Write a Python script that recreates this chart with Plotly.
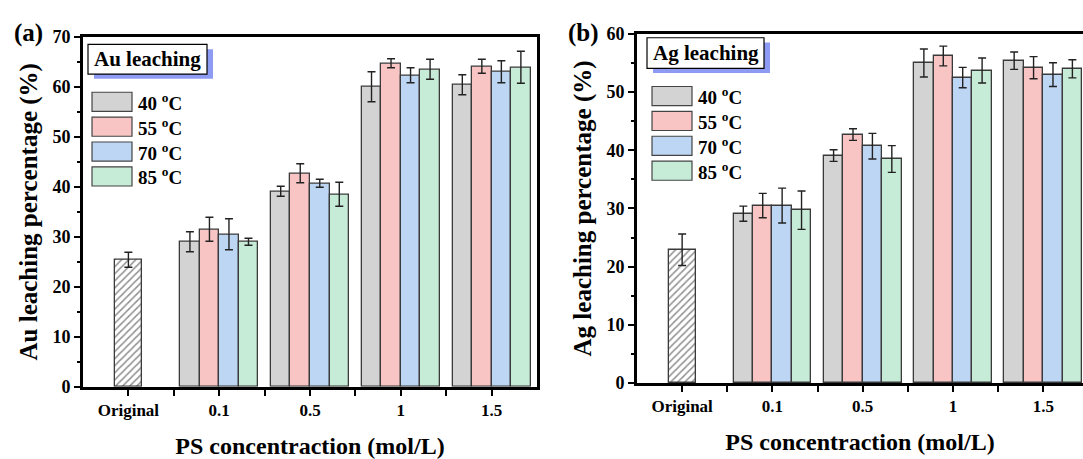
import plotly.graph_objects as go

# ---------------- data ----------------
categories = ["Original", "0.1", "0.5", "1", "1.5"]
temps = ["40 <sup>o</sup>C", "55 <sup>o</sup>C", "70 <sup>o</sup>C", "85 <sup>o</sup>C"]

au_original = 25.4
au_original_err = 1.5
au_40 = [29.0, 39.1, 60.0, 60.4]
au_55 = [31.5, 42.7, 64.7, 64.1]
au_70 = [30.5, 40.7, 62.3, 63.0]
au_85 = [29.0, 38.5, 63.5, 63.9]
au_40_err = [2.0, 1.0, 3.0, 2.0]
au_55_err = [2.4, 1.9, 0.9, 1.4]
au_70_err = [3.1, 0.8, 1.5, 2.2]
au_85_err = [0.7, 2.4, 2.0, 3.2]

ag_original = 22.9
ag_original_err = 2.7
ag_40 = [29.1, 39.1, 55.0, 55.4]
ag_55 = [30.5, 42.7, 56.2, 54.2]
ag_70 = [30.5, 40.7, 52.5, 53.0]
ag_85 = [29.7, 38.5, 53.7, 54.0]
ag_40_err = [1.3, 1.0, 2.4, 1.5]
ag_55_err = [2.1, 1.0, 1.7, 1.9]
ag_70_err = [3.0, 2.2, 1.75, 2.05]
ag_85_err = [3.3, 2.3, 2.15, 1.55]

colors = ["#d3d3d3", "#f8c4c4", "#bdd6f4", "#c6ebd7"]

W, H = 1083, 459
FONT = "Liberation Serif"

fig = go.Figure()

bar_w = 0.215
orig_w = 0.30
edge = "#3a3a3a"


def add_panel(xa, ya, orig, orig_err, series, errs):
    # original (hatched) bar
    fig.add_trace(go.Bar(
        x=[0], y=[orig], width=[orig_w], xaxis=xa, yaxis=ya,
        marker=dict(color="white", line=dict(color=edge, width=1.3),
                    pattern=dict(shape="/", fgcolor="#222222", bgcolor="white",
                                 size=5, solidity=0.3)),
        error_y=dict(type="data", array=[orig_err], color="#222222",
                     thickness=1.4, width=4),
        showlegend=False))
    n = len(series)
    for i, (vals, ev) in enumerate(zip(series, errs)):
        off = (i - (n - 1) / 2) * bar_w
        xs = [k + 1 + off for k in range(len(vals))]
        fig.add_trace(go.Bar(
            x=xs, y=vals, width=bar_w, xaxis=xa, yaxis=ya,
            marker=dict(color=colors[i], line=dict(color=edge, width=1.3)),
            error_y=dict(type="data", array=ev, color="#222222",
                         thickness=1.4, width=4),
            showlegend=False))


add_panel("x", "y", au_original, au_original_err,
          [au_40, au_55, au_70, au_85], [au_40_err, au_55_err, au_70_err, au_85_err])
add_panel("x2", "y2", ag_original, ag_original_err,
          [ag_40, ag_55, ag_70, ag_85], [ag_40_err, ag_55_err, ag_70_err, ag_85_err])

xtickfont = dict(family=FONT, size=17, color="black", weight="bold")
ytickfont = dict(family=FONT, size=18, color="black", weight="bold")
xtitlefont = dict(family=FONT, size=24, color="black", weight="bold")
ytitlefont = dict(family=FONT, size=25, color="black", weight="bold")

xcommon = dict(
    tickmode="array", tickvals=list(range(len(categories))),
    ticktext=categories,
    ticks="outside", ticklen=6, tickwidth=1.5, tickcolor="black",
    minor=dict(tickvals=[k + 0.5 for k in range(len(categories) - 1)],
               ticks="outside", ticklen=6, tickwidth=1.5, tickcolor="black"),
    showline=True, linecolor="black", linewidth=3, mirror=True,
    showgrid=False, zeroline=False, tickfont=xtickfont,
    title=dict(text="PS concentraction (mol/L)", font=xtitlefont, standoff=18),
)
ycommon = dict(
    dtick=10, ticks="outside", ticklen=6, tickwidth=1.5, tickcolor="black",
    minor=dict(dtick=5, ticks="outside", ticklen=3, tickwidth=1.5, tickcolor="black"),
    showline=True, linecolor="black", linewidth=3,
    showgrid=False, zeroline=False, tickfont=ytickfont,
)

fig.update_layout(
    width=W, height=H,
    margin=dict(l=0, r=0, t=0, b=0),
    paper_bgcolor="white", plot_bgcolor="white",
    barmode="overlay", bargap=0,
    font=dict(family=FONT, color="black"),
    xaxis=dict(xcommon, domain=[83 / W, 537 / W], range=[-0.5, 4.5], anchor="y"),
    yaxis=dict(ycommon, domain=[1 - 394 / H, 1 - 28 / H], range=[0, 70], mirror=True,
               anchor="x",
               title=dict(text="Au leaching percentage (%)", font=ytitlefont, standoff=8)),
    xaxis2=dict(xcommon, domain=[637 / W, 1.0], range=[-0.5, 4.44], anchor="y2"),
    yaxis2=dict(ycommon, domain=[1 - 390 / H, 1 - 25 / H], range=[0, 60], mirror=False,
                anchor="x2",
                title=dict(text="Ag leaching percentage (%)", font=ytitlefont, standoff=8)),
)

shapes = []
annotations = []


def px(x):
    return x / W


def py(y):
    return 1 - y / H


def add_legend(title, box, swx, sw_tops, label_x):
    x0, y0, x1, y1 = box
    # shadow
    shapes.append(dict(type="rect", xref="paper", yref="paper",
                       x0=px(x0 + 6), x1=px(x1 + 6), y0=py(y1 + 5), y1=py(y0 + 5),
                       fillcolor="#8e9bf2", line=dict(width=0), layer="above"))
    shapes.append(dict(type="rect", xref="paper", yref="paper",
                       x0=px(x0), x1=px(x1), y0=py(y1), y1=py(y0),
                       fillcolor="white", line=dict(color="black", width=1.2), layer="above"))
    annotations.append(dict(text=title, xref="paper", yref="paper",
                            x=px((x0 + x1) / 2), y=py((y0 + y1) / 2), showarrow=False,
                            xanchor="center", yanchor="middle",
                            font=dict(family=FONT, size=21, color="black", weight="bold")))
    for i, t in enumerate(sw_tops):
        shapes.append(dict(type="rect", xref="paper", yref="paper",
                           x0=px(swx), x1=px(swx + 40), y0=py(t + 20), y1=py(t),
                           fillcolor=colors[i], line=dict(color="#444444", width=1.2),
                           layer="above"))
        annotations.append(dict(text=temps[i], xref="paper", yref="paper",
                                x=px(label_x), y=py(t + 10), showarrow=False,
                                xanchor="left", yanchor="middle",
                                font=dict(family=FONT, size=19, color="black", weight="bold")))


add_legend("Au leaching", (88, 36, 207, 67), 92, [86, 112, 138, 164], 136)
add_legend("Ag leaching", (647, 29, 764, 61), 652, [80, 106, 132, 158], 696)

annotations.append(dict(text="(a)", xref="paper", yref="paper", x=px(28), y=py(24),
                        showarrow=False, xanchor="center", yanchor="middle",
                        font=dict(family=FONT, size=25, color="black", weight="bold")))
annotations.append(dict(text="(b)", xref="paper", yref="paper", x=px(583), y=py(24),
                        showarrow=False, xanchor="center", yanchor="middle",
                        font=dict(family=FONT, size=25, color="black", weight="bold")))

fig.update_layout(shapes=shapes, annotations=annotations)

fig.write_html("out.html")
